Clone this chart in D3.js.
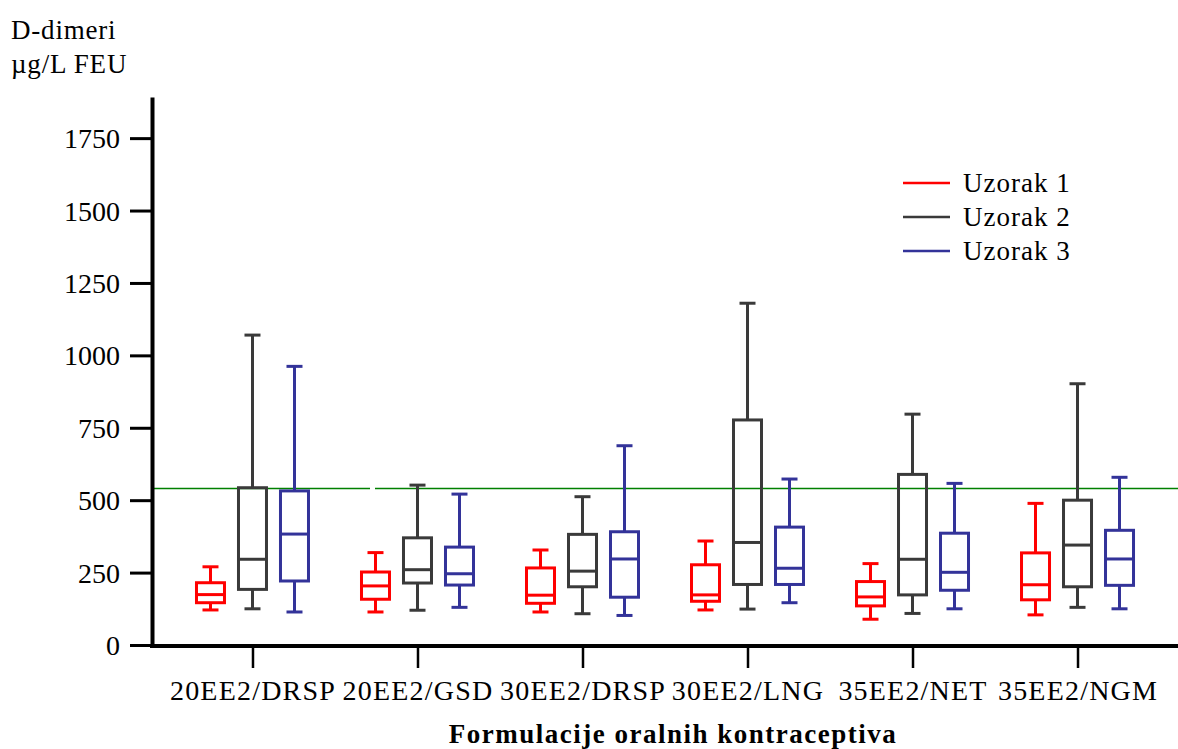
<!DOCTYPE html>
<html lang="en">
<head>
<meta charset="utf-8">
<title>D-dimeri</title>
<style>
  body { margin: 0; background: #fff; }
  .axis path, .axis line { stroke: #000; }
  .box rect { fill: none; }
</style>
</head>
<body>
<div id="graphic"></div>
<script src="https://cdnjs.cloudflare.com/ajax/libs/d3/7.8.5/d3.min.js"></script>
<script>
var categories = ['20EE2/DRSP', '20EE2/GSD', '30EE2/DRSP', '30EE2/LNG', '35EE2/NET', '35EE2/NGM'];
var seriesNames = ['Uzorak 1', 'Uzorak 2', 'Uzorak 3'];
var seriesColors = ['#ff0000', '#3a3a3a', '#333399'];

// [min, q1, median, q3, max] per category
var uzorak1 = [
  [121, 146, 174, 215, 270],
  [114, 158, 204, 252, 319],
  [114, 144, 172, 266, 328],
  [121, 151, 173, 277, 359],
  [89, 135, 166, 219, 281],
  [104, 156, 208, 318, 489]
];
var uzorak2 = [
  [125, 192, 296, 543, 1070],
  [120, 214, 260, 370, 552],
  [108, 201, 255, 382, 512],
  [124, 209, 354, 777, 1180],
  [109, 173, 296, 589, 797],
  [130, 201, 345, 500, 902]
];
var uzorak3 = [
  [114, 221, 383, 532, 962],
  [130, 207, 246, 338, 521],
  [102, 165, 297, 391, 688],
  [146, 209, 265, 407, 573],
  [125, 189, 251, 386, 558],
  [125, 206, 297, 396, 579]
];
var yTicks = [0, 250, 500, 750, 1000, 1250, 1500, 1750];
var cutoff = 540;

var series = [uzorak1, uzorak2, uzorak3];

var width = 1178, height = 749;
var serif = "'Liberation Serif', 'Times New Roman', serif";

var svg = d3.select('#graphic')
            .append('svg')
            .attr('width', width)
            .attr('height', height)
            .style('font-family', serif);

var x = d3.scalePoint()
          .domain(categories)
          .range([152, 1178])
          .padding(0.609);

var y = d3.scaleLinear()
          .domain([0, 1892])
          .range([645, 97]);

var inner = d3.scaleLinear().domain([0, 2]).range([-42, 42]);
var boxW = 28, capW = 16;

// reference line (with the small gap seen in the original)
svg.append('line')
   .attr('x1', 152).attr('x2', 1178)
   .attr('y1', y(cutoff)).attr('y2', y(cutoff))
   .attr('stroke', '#008000')
   .attr('stroke-width', 1.5)
   .attr('stroke-dasharray', '218,5,2000');

// boxes
series.forEach(function(data, s) {
  var g = svg.append('g')
             .attr('class', 'box')
             .attr('stroke', seriesColors[s])
             .attr('stroke-width', 3);

  var b = g.selectAll('g')
           .data(data)
           .enter()
           .append('g')
           .attr('transform', function(d, i) {
             return 'translate(' + (x(categories[i]) + inner(s)) + ',0)';
           });

  b.append('line')
   .attr('x1', 0).attr('x2', 0)
   .attr('y1', function(d) { return y(d[4]); })
   .attr('y2', function(d) { return y(d[3]); });
  b.append('line')
   .attr('x1', 0).attr('x2', 0)
   .attr('y1', function(d) { return y(d[1]); })
   .attr('y2', function(d) { return y(d[0]); });
  b.append('line')
   .attr('x1', -capW / 2).attr('x2', capW / 2)
   .attr('y1', function(d) { return y(d[4]); })
   .attr('y2', function(d) { return y(d[4]); });
  b.append('line')
   .attr('x1', -capW / 2).attr('x2', capW / 2)
   .attr('y1', function(d) { return y(d[0]); })
   .attr('y2', function(d) { return y(d[0]); });
  b.append('rect')
   .attr('x', -boxW / 2)
   .attr('width', boxW)
   .attr('y', function(d) { return y(d[3]); })
   .attr('height', function(d) { return y(d[1]) - y(d[3]); });
  b.append('line')
   .attr('x1', -boxW / 2).attr('x2', boxW / 2)
   .attr('y1', function(d) { return y(d[2]); })
   .attr('y2', function(d) { return y(d[2]); });
});

// axes
var yAxis = svg.append('g')
   .attr('class', 'axis')
   .attr('transform', 'translate(152,0)')
   .call(d3.axisLeft(y).tickValues(yTicks).tickFormat(d3.format('d'))
           .tickSize(22).tickSizeOuter(0).tickPadding(10));
yAxis.attr('font-family', null);
yAxis.select('.domain').attr('stroke-width', 4);
yAxis.selectAll('.tick line').attr('stroke-width', 3);
yAxis.selectAll('.tick text')
     .style('font-family', serif)
     .style('font-size', '28px')
     .attr('dy', '0.34em');

var xAxis = svg.append('g')
   .attr('class', 'axis')
   .attr('transform', 'translate(0,646)')
   .call(d3.axisBottom(x).tickSize(22).tickSizeOuter(0).tickPadding(12));
xAxis.attr('font-family', null);
xAxis.select('.domain').attr('stroke-width', 4).attr('d', 'M150,0H1178');
xAxis.selectAll('.tick line').attr('stroke-width', 2.5);
xAxis.selectAll('.tick text')
     .style('font-family', serif)
     .style('font-size', '28px')
     .style('letter-spacing', '1.2px');

// axis titles
svg.append('text')
   .attr('x', 11).attr('y', 39)
   .style('font-size', '27px')
   .style('letter-spacing', '0.8px')
   .text('D-dimeri');
svg.append('text')
   .attr('x', 11).attr('y', 73)
   .style('font-size', '27px')
   .style('letter-spacing', '0.8px')
   .text('\u00b5g/L FEU');
svg.append('text')
   .attr('x', 673).attr('y', 743)
   .attr('text-anchor', 'middle')
   .style('font-size', '27px')
   .style('font-weight', 'bold')
   .style('letter-spacing', '1.5px')
   .text('Formulacije oralnih kontraceptiva');

// legend
var legend = svg.append('g')
   .selectAll('g')
   .data(seriesNames)
   .enter()
   .append('g')
   .attr('transform', function(d, i) { return 'translate(903,' + (183 + i * 34) + ')'; });
legend.append('line')
   .attr('x1', 0).attr('x2', 47)
   .attr('stroke', function(d, i) { return seriesColors[i]; })
   .attr('stroke-width', 2.5);
legend.append('text')
   .attr('x', 60).attr('dy', '0.34em')
   .style('font-size', '27px')
   .style('letter-spacing', '1px')
   .text(function(d) { return d; });
</script>
</body>
</html>
